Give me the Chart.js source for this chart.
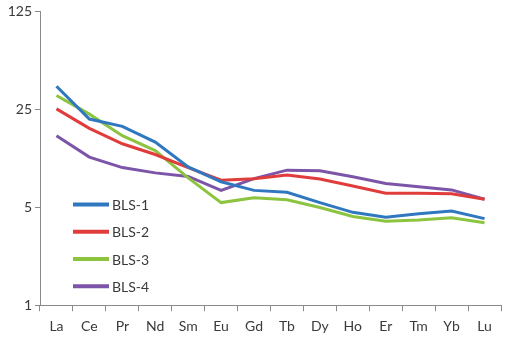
<!DOCTYPE html>
<html><head><meta charset="utf-8">
<script src="https://cdn.jsdelivr.net/npm/chart.js@4"></script>
<style>html,body{margin:0;padding:0;background:#fff}#wrap{width:505px;height:342px}</style>
</head><body><div id="wrap"><canvas id="c" width="505" height="342"></canvas></div>
<script>
const categories = ["La","Ce","Pr","Nd","Sm","Eu","Gd","Tb","Dy","Ho","Er","Tm","Yb","Lu"];
const bls1 = [36.5,21.3,18.9,14.6,9.7,7.6,6.6,6.4,5.4,4.6,4.25,4.5,4.7,4.15];
const bls2 = [25.2,18.3,14.2,11.9,9.6,7.8,8.0,8.5,7.95,7.1,6.3,6.3,6.25,5.7];
const bls3 = [31.4,23.1,16.2,12.7,8.1,5.4,5.85,5.65,4.98,4.3,3.98,4.05,4.2,3.88];
const bls4 = [16.2,11.4,9.6,8.8,8.3,6.6,8.0,9.2,9.1,8.25,7.4,7.0,6.65,5.7];
const seriesNames = ["BLS-1","BLS-2","BLS-3","BLS-4"];
const yTicks = [1,5,25,125];
const colors = ["#2f78c0","#e03c3c","#8cc43f","#7d55a8"];
const txt = "#3a3a3a";
const font = {family:"Lato, 'Open Sans', sans-serif", size:14};

const legendPlugin = {
  id:'insideLegend',
  afterDraw(chart){
    const ctx = chart.ctx, ca = chart.chartArea;
    ctx.save();
    ctx.font = "14px Lato, 'Open Sans', sans-serif";
    ctx.textBaseline = 'middle';
    chart.data.datasets.forEach((ds,i)=>{
      const y = ca.top + 193 + i*27.3;
      const x0 = ca.left + 33;
      ctx.strokeStyle = ds.borderColor; ctx.lineWidth = 4;
      ctx.beginPath(); ctx.moveTo(x0,y); ctx.lineTo(x0+36,y); ctx.stroke();
      ctx.fillStyle = txt; ctx.textAlign='left';
      ctx.fillText(ds.label, x0+39, y+1);
    });
    ctx.restore();
  }
};

const dataArr = [bls1,bls2,bls3,bls4];
new Chart(document.getElementById('c'),{
  type:'line',
  data:{labels:categories,datasets:seriesNames.map((n,i)=>({label:n,data:dataArr[i],borderColor:colors[i],backgroundColor:colors[i],borderWidth:3,pointRadius:0,tension:0,fill:false}))},
  options:{
    responsive:false,animation:false,
    layout:{padding:{top:1,right:4,left:0,bottom:0}},
    plugins:{legend:{display:false},tooltip:{enabled:false}},
    scales:{
      x:{offset:true,
        grid:{display:true,drawOnChartArea:false,offset:true,color:'#8a8a8a',tickLength:6,tickColor:'#8a8a8a'},
        border:{color:'#8a8a8a',width:1},
        ticks:{color:txt,font:font,padding:7,maxRotation:0,autoSkip:false}},
      y:{type:'logarithmic',min:1,max:125,
        afterBuildTicks(s){s.ticks = yTicks.map(v=>({value:v}));},
        afterFit(s){s.width=40;},
        grid:{display:true,drawOnChartArea:false,color:'#8a8a8a',tickLength:5,tickColor:'#8a8a8a'},
        border:{color:'#8a8a8a',width:1},
        ticks:{color:txt,font:font,padding:3,callback:v=>String(v)}}
    }
  },
  plugins:[legendPlugin]
});
</script></body></html>
